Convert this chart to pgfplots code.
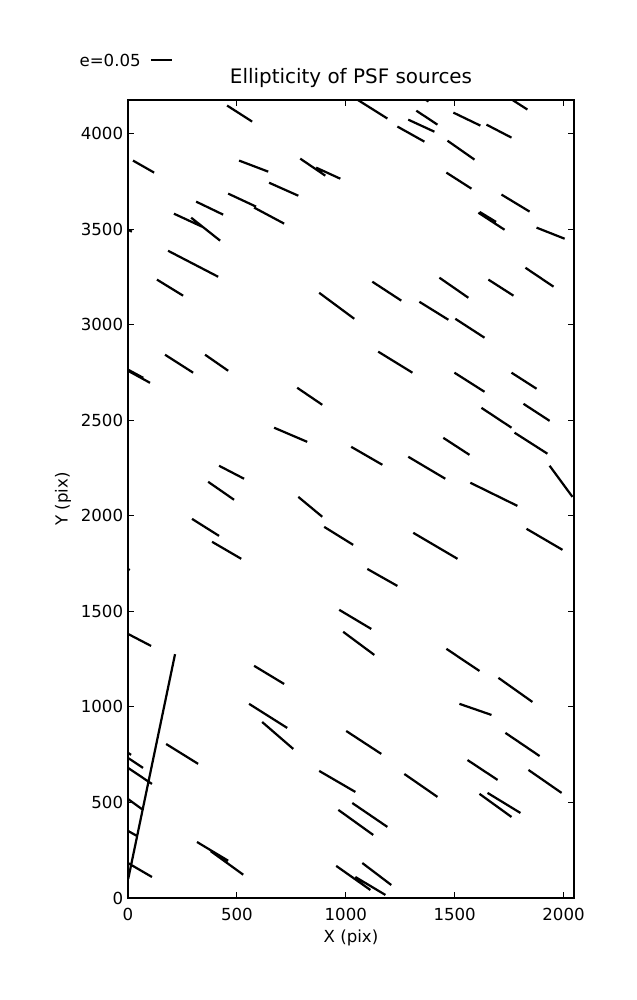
\documentclass[border=0pt]{standalone}
\usepackage{pgfplots}
\pgfplotsset{compat=1.18}
\usepackage{fontspec}
\setmainfont{DejaVu Sans}
\begin{document}
\begin{tikzpicture}
\useasboundingbox (-1.28in,-1.02in) rectangle (5.09in,8.98in);
\begin{axis}[name=ax,
  scale only axis, width=4.46in, height=7.98in,
  xmin=0, xmax=2048, ymin=0, ymax=4176,
  xtick={0,500,1000,1500,2000}, ytick={0,500,1000,1500,2000,2500,3000,3500,4000},
  /pgf/number format/set thousands separator={},
  /pgf/number format/assume math mode=true,
  tick label style={font=\fontsize{12}{14}\selectfont},
  xticklabel style={yshift=-3.5pt},
  major tick length=4pt, tick align=inside,
  axis line style={line width=0.8pt}, tick style={line width=0.6pt, black},
  xlabel={X (pix)}, ylabel={Y (pix)},
  label style={font=\fontsize{12}{14}\selectfont},
  xlabel style={at={(axis description cs:0.5,-0.0501)}, anchor=center},
  ylabel style={at={(axis description cs:-0.1457,0.5)}, anchor=center, rotate=0},
  title={Ellipticity of PSF sources},
  title style={font=\fontsize{14.4}{17}\selectfont, at={(axis description cs:0.5,1.010)}, anchor=base, yshift=0pt},
  unbounded coords=jump,
  clip=true,
]
\addplot[black, line width=1.6pt, no marks] table {
x y
1050 4180
1191 4079
nan nan
1355 4185
1380 4168
nan nan
1760 4180
1834 4126
nan nan
455 4147
570 4063
nan nan
1324 4120
1421 4047
nan nan
1287 4073
1407 4010
nan nan
1237 4037
1361 3958
nan nan
1494 4110
1618 4042
nan nan
1646 4047
1761 3979
nan nan
1467 3963
1591 3864
nan nan
23 3859
120 3796
nan nan
510 3859
644 3801
nan nan
791 3869
906 3780
nan nan
864 3822
975 3764
nan nan
648 3743
782 3675
nan nan
460 3686
588 3618
nan nan
579 3613
717 3529
nan nan
313 3644
437 3576
nan nan
211 3581
340 3513
nan nan
290 3560
423 3440
nan nan
184 3387
414 3251
nan nan
133 3236
253 3152
nan nan
878 3167
1039 3031
nan nan
1462 3796
1577 3712
nan nan
1715 3681
1844 3592
nan nan
1609 3586
1729 3497
nan nan
1615 3590
1690 3538
nan nan
1876 3508
2005 3450
nan nan
0 3497
18 3487
nan nan
1122 3225
1255 3126
nan nan
1430 3246
1563 3141
nan nan
1655 3236
1770 3152
nan nan
1825 3298
1954 3199
nan nan
1338 3120
1471 3026
nan nan
1503 3031
1637 2932
nan nan
170 2843
299 2749
nan nan
354 2843
460 2759
nan nan
1149 2859
1306 2749
nan nan
0 2759
101 2696
nan nan
0 2765
70 2722
nan nan
777 2670
892 2581
nan nan
1499 2749
1637 2649
nan nan
1761 2749
1876 2665
nan nan
1623 2565
1761 2461
nan nan
1816 2586
1936 2497
nan nan
671 2461
823 2387
nan nan
1775 2435
1926 2325
nan nan
1448 2408
1568 2319
nan nan
1025 2361
1168 2267
nan nan
1287 2309
1457 2194
nan nan
418 2262
533 2194
nan nan
1936 2262
2041 2099
nan nan
1572 2173
1788 2052
nan nan
368 2178
487 2084
nan nan
782 2099
892 1995
nan nan
294 1984
418 1895
nan nan
901 1942
1034 1848
nan nan
1310 1911
1513 1775
nan nan
1830 1932
1995 1822
nan nan
386 1864
520 1775
nan nan
0 1722
8 1716
nan nan
1099 1722
1237 1633
nan nan
970 1508
1117 1408
nan nan
988 1393
1131 1272
nan nan
0 1382
106 1319
nan nan
1462 1304
1614 1188
nan nan
579 1215
717 1120
nan nan
1701 1152
1857 1026
nan nan
1522 1016
1669 958
nan nan
556 1016
731 890
nan nan
616 921
759 780
nan nan
1002 874
1163 754
nan nan
1733 864
1890 743
nan nan
175 806
322 702
nan nan
0 760
14 749
nan nan
0 733
69 681
nan nan
0 681
110 597
nan nan
1559 722
1697 618
nan nan
1839 670
1991 550
nan nan
1269 649
1421 529
nan nan
878 665
1044 555
nan nan
0 518
69 461
nan nan
1614 545
1761 424
nan nan
1651 550
1802 445
nan nan
1030 497
1191 372
nan nan
966 461
1126 330
nan nan
0 351
41 325
nan nan
317 293
460 195
nan nan
380 245
529 122
nan nan
0 183
110 110
nan nan
1076 183
1209 68
nan nan
956 168
1113 42
nan nan
1044 110
1182 16
nan nan
1 100
216 1276
};
\end{axis}
\draw[black, line width=1.6pt] ([xshift=0.23in,yshift=0.40in]ax.north west) -- ([xshift=0.437in,yshift=0.40in]ax.north west);
\node[anchor=east, inner sep=0pt, font=\fontsize{12}{14}\selectfont] at ([xshift=0.13in,yshift=0.40in]ax.north west) {e=0.05};
\end{tikzpicture}
\end{document}
